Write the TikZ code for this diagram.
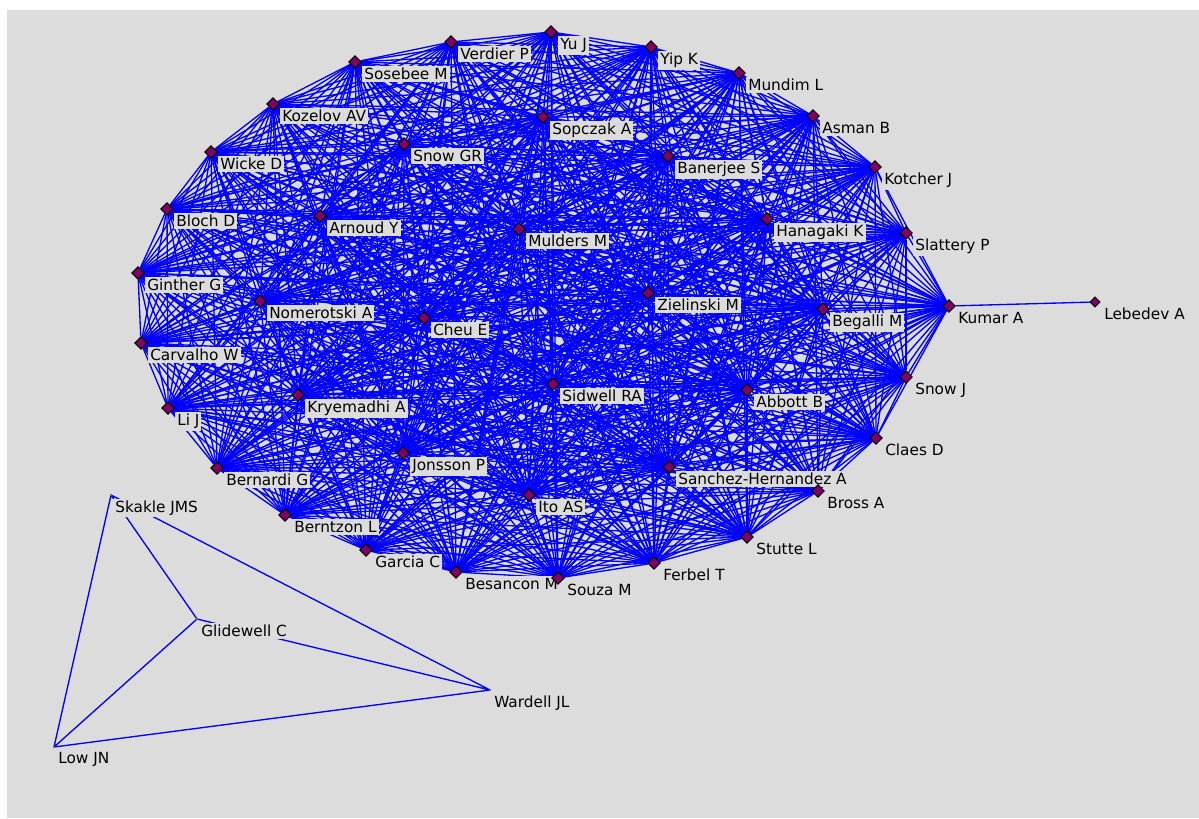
\documentclass[tikz,border=0pt]{standalone}
\usepackage{fontspec}
\setsansfont{DejaVu Sans}
\usetikzlibrary{positioning,shapes.geometric}
\definecolor{canvas}{HTML}{DCDCDC}
\definecolor{plum}{HTML}{800066}
\definecolor{wire}{HTML}{0000FF}
\pgfdeclarelayer{wires}
\pgfsetlayers{wires,main}

\begin{document}
\begin{tikzpicture}[x=.75pt,y=-.75pt,
  vtx/.style={diamond,draw=black,fill=plum,line width=.8pt,inner sep=0pt,minimum size=9.5pt},
  leafvtx/.style={vtx,minimum size=7.5pt},
  tick/.style={circle,fill=black,inner sep=0pt,minimum size=1.2pt},
  lbl/.style={fill=canvas,inner sep=1.5pt,font=\sffamily\fontsize{11.5}{13}\selectfont},
  edge/.style={draw=wire,line width=1pt}]

\useasboundingbox (0,0) rectangle (1199,818);

% co-author clique
\foreach \id/\x/\y/\txt in {
  yuj/551/32/Yu J, verdier/451/42/Verdier P, yip/651/47/Yip K,
  sosebee/355/62/Sosebee M, mundim/739/73/Mundim L, kozelov/273/104/Kozelov AV,
  sopczak/543/117/Sopczak A, asman/813/116/Asman B, snowgr/404/144/Snow GR,
  wicke/211/152/Wicke D, banerjee/668/156/Banerjee S, kotcher/875/167/Kotcher J,
  bloch/167/209/Bloch D, arnoud/320/216/Arnoud Y, hanagaki/767/219/Hanagaki K,
  mulders/519/229/Mulders M, slattery/906/233/Slattery P, ginther/138/273/Ginther G,
  nomerotski/260/301/Nomerotski A, zielinski/648/293/Zielinski M, begalli/823/309/Begalli M,
  kumar/949/306/Kumar A, cheu/424/318/Cheu E, carvalho/141/343/Carvalho W,
  sidwell/553/384/Sidwell RA, abbott/747/390/Abbott B, snowj/906/377/Snow J,
  kryemadhi/298/395/Kryemadhi A, lij/168/408/Li J, claes/876/438/Claes D,
  jonsson/403/453/Jonsson P, sanchez/669/467/Sanchez-Hernandez A, bernardi/217/468/Bernardi G,
  bross/818/491/Bross A, ito/529/495/Ito AS, berntzon/285/515/Berntzon L,
  stutte/747/537/Stutte L, garcia/366/550/Garcia C, ferbel/654/563/Ferbel T,
  besancon/456/572/Besancon M, souza/558/578/Souza M}{
  \node[vtx] (\id) at (\x,\y) {};
  \node[lbl,below right=3pt and 5.25pt of \id.center] (l\id) {\txt};
}
\def\clique{yuj,verdier,yip,sosebee,mundim,kozelov,sopczak,asman,snowgr,wicke,
  banerjee,kotcher,bloch,arnoud,hanagaki,mulders,slattery,ginther,nomerotski,
  zielinski,begalli,kumar,cheu,carvalho,sidwell,abbott,snowj,kryemadhi,lij,claes,
  jonsson,sanchez,bernardi,bross,ito,berntzon,stutte,garcia,ferbel,besancon,souza}

% pendant
\node[leafvtx] (lebedev) at (1095,302) {};
\node[lbl,below right=3pt and 5.25pt of lebedev.center] (llebedev) {Lebedev A};

% small component
\foreach \id/\x/\y/\txt in {skakle/111/495/Skakle JMS, glidewell/197/619/Glidewell C,
  wardell/490/690/Wardell JL, lowjn/54/747/Low JN}{
  \node[tick] (\id) at (\x,\y) {};
  \node[lbl,below right=2.6pt and 1.5pt of \id.center] (l\id) {\txt};
}

\begin{pgfonlayer}{wires}
  \fill[white] (0,0) rectangle (1199,818);
  \fill[canvas] (7,10) rectangle (1199,818);
  \foreach \a [count=\i] in \clique {
    \foreach \b [count=\j] in \clique {
      \ifnum\j>\i \draw[edge] (\a)--(\b); \fi
    }
  }
  \draw[edge] (kumar)--(lebedev);
  \draw[edge] (skakle)--(glidewell) (skakle)--(wardell) (skakle)--(lowjn)
    (glidewell)--(wardell) (glidewell)--(lowjn) (wardell)--(lowjn);
\end{pgfonlayer}

\end{tikzpicture}
\end{document}
